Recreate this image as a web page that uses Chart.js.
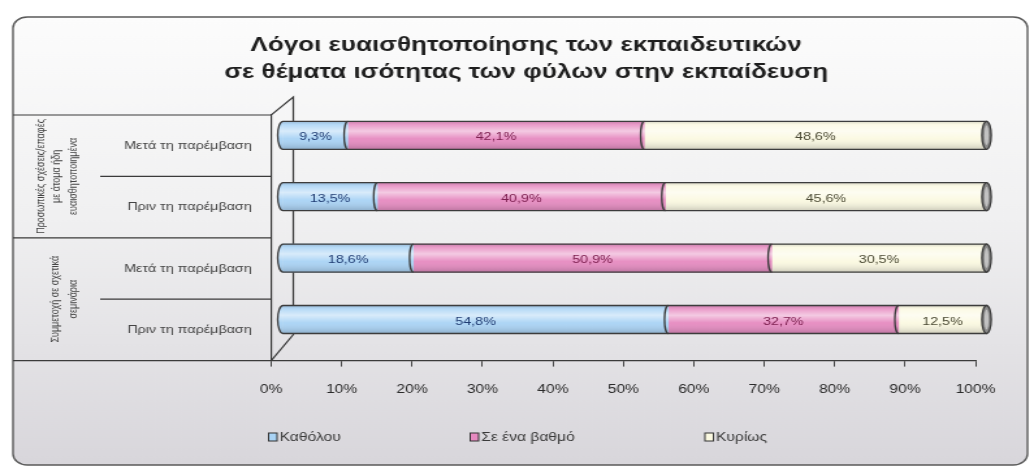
<!DOCTYPE html>
<html>
<head>
<meta charset="utf-8">
<script src="https://cdn.jsdelivr.net/npm/chart.js@4.4.1/dist/chart.umd.min.js"></script>
<style>
  html, body { margin: 0; padding: 0; background: #fff; }
  #chart { display: block; }
</style>
</head>
<body>
<!-- the canvas is drawn narrow and shown wide, which gives the stretched lettering -->
<canvas id="chart" width="795" height="470" style="width:1034px;height:470px"></canvas>
<script>
const categories = ['Μετά τη παρέμβαση', 'Πριν τη παρέμβαση', 'Μετά τη παρέμβαση', 'Πριν τη παρέμβαση'];
const groupLabels = [
  ['Προσωπικές σχέσεις/επαφές', 'με άτομα ήδη', 'ευαισθητοποιημένα'],
  ['Συμμετοχή σε σχετικά', 'σεμινάρια']
];
const seriesNames = ['Καθόλου', 'Σε ένα βαθμό', 'Κυρίως'];
const notAtAll = [9.3, 13.5, 18.6, 54.8];
const toSomeDegree = [42.1, 40.9, 50.9, 32.7];
const mostly = [48.6, 45.6, 30.5, 12.5];
const xTicks = [0, 10, 20, 30, 40, 50, 60, 70, 80, 90, 100];
const titleLines = ['Λόγοι ευαισθητοποίησης των εκπαιδευτικών', 'σε θέματα ισότητας των φύλων στην εκπαίδευση'];

const fills = ['#a9d3f5', '#e68ac0', '#fbf9e1'];
const labelColors = ['#213d73', '#7d2050', '#4b4a34'];
const FONT = '"Liberation Sans", Arial, sans-serif';

// floor depth and where the bars sit inside it
const BACK_DX = 17, BACK_TOP = 18, BACK_BOTTOM = 26;
const BAR_DX = 8.5, BAR_DY = -10.4;
const CAP_RX = 4, END_RX = 3.6;

Chart.defaults.font.family = FONT;

const pct = v => v.toFixed(1).replace('.', ',') + '%';

const frame = {
  id: 'frame',
  beforeDraw(chart) {
    const { ctx, width, height } = chart;
    ctx.save();
    ctx.fillStyle = '#fff';
    ctx.fillRect(0, 0, width, height);
    const g = ctx.createLinearGradient(0, 17, 0, 465);
    g.addColorStop(0, '#fcfcfc');
    g.addColorStop(0.45, '#f0f0f1');
    g.addColorStop(1, '#d8d6db');
    ctx.beginPath();
    ctx.roundRect(10, 17, 780, 448, 11);
    ctx.fillStyle = g;
    ctx.fill();
    ctx.lineWidth = 1.4;
    ctx.strokeStyle = '#5a5a5a';
    ctx.stroke();
    ctx.restore();
  }
};

const cylinders = {
  id: 'cylinders',
  beforeDatasetsDraw(chart) {
    const { ctx, chartArea: a, scales: { y } } = chart;
    const bx = a.left + BACK_DX;
    const rowEdge = i => (y.getPixelForTick(i) + y.getPixelForTick(i + 1)) / 2;

    ctx.save();
    ctx.strokeStyle = '#3a3a3a';
    ctx.lineWidth = 1.2;
    ctx.beginPath();
    // panel top, floor outline and the bottom rule
    ctx.moveTo(10, a.top);
    ctx.lineTo(a.left, a.top);
    ctx.lineTo(bx, a.top - BACK_TOP);
    ctx.lineTo(bx, a.bottom - BACK_BOTTOM);
    ctx.lineTo(a.left, a.bottom);
    ctx.moveTo(10, a.bottom);
    ctx.lineTo(a.left, a.bottom);
    // group divider and row dividers in the label panel
    ctx.moveTo(10, rowEdge(1));
    ctx.lineTo(a.left, rowEdge(1));
    ctx.moveTo(77, rowEdge(0));
    ctx.lineTo(a.left, rowEdge(0));
    ctx.moveTo(77, rowEdge(2));
    ctx.lineTo(a.left, rowEdge(2));
    ctx.stroke();

    // rotated group names
    const groups = [
      { mid: (a.top + rowEdge(1)) / 2, xs: [31.5, 44, 57] },
      { mid: (rowEdge(1) + a.bottom) / 2, xs: [43, 57] }
    ];
    ctx.fillStyle = '#444';
    ctx.font = '9px ' + FONT;
    ctx.textAlign = 'center';
    ctx.textBaseline = 'middle';
    groups.forEach((g, gi) => {
      groupLabels[gi].forEach((line, li) => {
        ctx.save();
        ctx.translate(g.xs[li], g.mid);
        ctx.rotate(-Math.PI / 2);
        ctx.fillText(line, 0, 0);
        ctx.restore();
      });
    });
    ctx.restore();

    // bars stand halfway back on the floor
    ctx.save();
    ctx.translate(BAR_DX, BAR_DY);
  },
  afterDatasetsDraw(chart) {
    const { ctx } = chart;
    const metas = [0, 1, 2].map(i => chart.getDatasetMeta(i));

    categories.forEach((_, i) => {
      const first = metas[0].data[i];
      const last = metas[2].data[i];
      const x0 = first.base, x1 = last.x, yc = first.y, h = first.height;
      const top = yc - h / 2, bot = yc + h / 2;

      const body = new Path2D();
      body.ellipse(x0, yc, CAP_RX, h / 2, 0, Math.PI / 2, Math.PI * 1.5);
      body.lineTo(x1, top);
      body.lineTo(x1, bot);
      body.closePath();

      // rounded start in the first series colour
      ctx.beginPath();
      ctx.ellipse(x0, yc, CAP_RX, h / 2, 0, Math.PI / 2, Math.PI * 1.5);
      ctx.closePath();
      ctx.fillStyle = fills[0];
      ctx.fill();

      // cylinder shading
      const g = ctx.createLinearGradient(0, top, 0, bot);
      g.addColorStop(0, 'rgba(60,60,70,0.20)');
      g.addColorStop(0.12, 'rgba(255,255,255,0.15)');
      g.addColorStop(0.35, 'rgba(255,255,255,0.55)');
      g.addColorStop(0.62, 'rgba(255,255,255,0.05)');
      g.addColorStop(1, 'rgba(40,40,50,0.22)');
      ctx.fillStyle = g;
      ctx.fill(body);

      ctx.strokeStyle = '#3c3c3c';
      ctx.lineWidth = 1.3;
      // seams between segments
      [1, 2].forEach(d => {
        const el = metas[d].data[i];
        ctx.beginPath();
        ctx.ellipse(el.base, yc, CAP_RX * 0.7, h / 2, 0, Math.PI / 2, Math.PI * 1.5);
        ctx.stroke();
      });
      ctx.stroke(body);

      // end face
      ctx.beginPath();
      ctx.ellipse(x1, yc, END_RX, h / 2, 0, 0, Math.PI * 2);
      ctx.fillStyle = '#8a8a8a';
      ctx.fill();
      ctx.stroke();
      ctx.beginPath();
      ctx.ellipse(x1, yc, END_RX * 0.45, h / 2 - 4, 0, 0, Math.PI * 2);
      ctx.fillStyle = '#c2c2c2';
      ctx.fill();
    });

    // values in the segments
    ctx.font = '11px ' + FONT;
    ctx.textAlign = 'center';
    ctx.textBaseline = 'middle';
    metas.forEach((meta, d) => {
      ctx.fillStyle = labelColors[d];
      meta.data.forEach((el, i) => {
        const v = chart.data.datasets[d].data[i];
        ctx.fillText(pct(v), (el.x + el.base) / 2, el.y + 2);
      });
    });

    ctx.restore();
  },
  afterDraw(chart) {
    // legend row
    const { ctx } = chart;
    const xs = [206.5, 361.5, 542];
    const yc = 437;
    ctx.save();
    ctx.font = '12px ' + FONT;
    ctx.textBaseline = 'middle';
    ctx.textAlign = 'left';
    seriesNames.forEach((name, i) => {
      ctx.fillStyle = fills[i];
      ctx.fillRect(xs[i], yc - 4, 6.5, 8);
      ctx.strokeStyle = '#333';
      ctx.lineWidth = 1;
      ctx.strokeRect(xs[i], yc - 4, 6.5, 8);
      ctx.fillStyle = '#3a3a3a';
      ctx.fillText(name, xs[i] + 8.5, yc + 1);
    });
    ctx.restore();
  }
};

new Chart(document.getElementById('chart'), {
  type: 'bar',
  data: {
    labels: categories,
    datasets: [
      { label: seriesNames[0], data: notAtAll, backgroundColor: fills[0] },
      { label: seriesNames[1], data: toSomeDegree, backgroundColor: fills[1] },
      { label: seriesNames[2], data: mostly, backgroundColor: fills[2] }
    ]
  },
  options: {
    responsive: false,
    animation: false,
    indexAxis: 'y',
    layout: { padding: { left: 14, right: 0, top: 18, bottom: 57 } },
    datasets: { bar: { barThickness: 28, borderWidth: 0, clip: false } },
    scales: {
      x: {
        stacked: true,
        min: 0,
        max: 100,
        afterBuildTicks: s => { s.ticks = xTicks.map(v => ({ value: v })); },
        grid: { drawOnChartArea: false, drawTicks: true, tickLength: 6, color: '#444' },
        border: { display: true, color: '#3a3a3a', width: 1.2 },
        ticks: { padding: 16, color: '#2a2a2a', font: { size: 12 }, callback: v => v + '%' }
      },
      y: {
        stacked: true,
        grid: { display: false },
        border: { display: true, color: '#3a3a3a', width: 1.2 },
        ticks: { padding: 7, color: '#444', font: { size: 11 } },
        afterFit: s => { s.width = 194.5; }
      },
      yr: {
        type: 'category',
        position: 'right',
        grid: { display: false },
        border: { display: false },
        ticks: { display: false },
        afterFit: s => { s.width = 45; }
      }
    },
    plugins: {
      legend: { display: false },
      tooltip: { enabled: false },
      title: {
        display: true,
        text: titleLines,
        color: '#1e1e1e',
        font: { size: 20, weight: 'bold', lineHeight: 1.35 },
        padding: { top: 14, bottom: 29 }
      }
    }
  },
  plugins: [frame, cylinders]
});
</script>
</body>
</html>
